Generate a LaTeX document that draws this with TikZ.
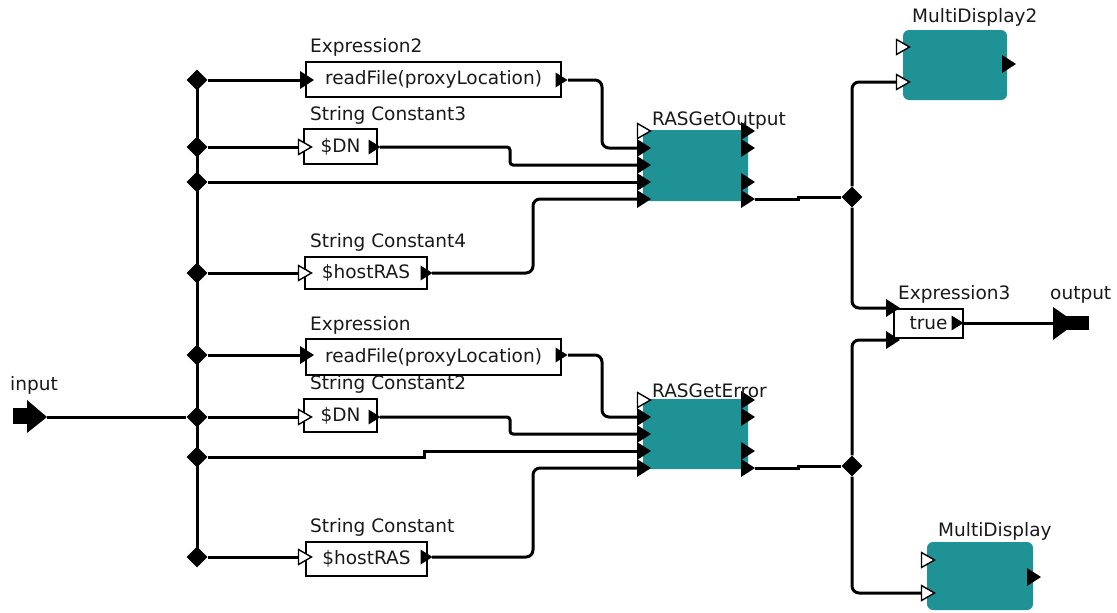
\documentclass[tikz,border=0pt]{standalone}
\usepackage{fontspec}
\setmainfont{DejaVu Sans}
\usetikzlibrary{shapes.geometric}
\definecolor{actorfill}{RGB}{31,146,150}
\definecolor{txt}{RGB}{25,25,25}
\begin{document}
\begin{tikzpicture}[x=1pt,y=-1pt,
  wire/.style={line width=3pt, rounded corners=7pt},
  sharpwire/.style={line width=3pt},
  bx/.style={draw=black, line width=1.2pt, fill=white, inner sep=0, font=\fontsize{18.5}{20}\selectfont, text=txt},
  lbl/.style={anchor=base west, font=\fontsize{18.5}{20}\selectfont, text=txt, inner sep=0},
  dot/.style={diamond, fill=black, minimum width=21pt, minimum height=21pt, inner sep=0},
  actor/.style={fill=actorfill, rounded corners=6pt, inner sep=0},
  fport/.pic={\fill[black] (-7,-9)--(7,0)--(-7,9)--cycle;},
  sport/.pic={\fill[black] (-5.5,-7.5)--(6.5,0)--(-5.5,7.5)--cycle;},
  hport/.pic={\filldraw[fill=white,draw=black,line width=1.4pt] (-6.5,-7.5)--(6.5,0)--(-6.5,7.5)--cycle;},
]
\useasboundingbox (0,0) rectangle (1117,613);

% ---------- named coordinates (ports) ----------
\coordinate (inp) at (47,417);
\coordinate (e2-i) at (300,80);   \coordinate (e2-o) at (568,80);
\coordinate (sc3-i) at (298,147); \coordinate (sc3-o) at (380,147);
\coordinate (sc4-i) at (298,273); \coordinate (sc4-o) at (432,273);
\coordinate (e-i) at (300,355);   \coordinate (e-o) at (568,355);
\coordinate (sc2-i) at (298,417); \coordinate (sc2-o) at (380,417);
\coordinate (sc-i) at (298,557);  \coordinate (sc-o) at (432,557);
\coordinate (go-i1) at (637,148); \coordinate (go-i2) at (637,165);
\coordinate (go-i3) at (637,182); \coordinate (go-i4) at (637,199);
\coordinate (go-o3) at (755,199);
\coordinate (ge-i1) at (637,417); \coordinate (ge-i2) at (637,434);
\coordinate (ge-i3) at (637,451); \coordinate (ge-i4) at (637,468);
\coordinate (ge-o3) at (755,468);
\coordinate (md2-i1) at (896,82);
\coordinate (x3-i0) at (886,308); \coordinate (x3-i1) at (886,340);
\coordinate (x3-o) at (963,323);
\coordinate (md-i1) at (921,593);
\coordinate (outp) at (1053,323);

% ---------- junction diamonds ----------
\node[dot] (d1) at (197,80) {};
\node[dot] (d2) at (197,147) {};
\node[dot] (d3) at (197,182) {};
\node[dot] (d4) at (197,273) {};
\node[dot] (d5) at (197,355) {};
\node[dot] (d6) at (197,417) {};
\node[dot] (d7) at (197,457) {};
\node[dot] (d8) at (197,557) {};
\node[dot] (dr1) at (852,197) {};
\node[dot] (dr2) at (852,466) {};

% ---------- wires ----------
\draw[sharpwire] (d1.center) -- (d8.center);
\draw[wire] (inp) -- (d6);
\draw[wire] (d1) -- (e2-i);
\draw[wire] (d2) -- (sc3-i);
\draw[wire] (d4) -- (sc4-i);
\draw[wire] (d5) -- (e-i);
\draw[wire] (d6) -- (sc2-i);
\draw[wire] (d8) -- (sc-i);

\draw[wire] (e2-o) -- (602,80) -- (602,148) -- (go-i1);
\draw[wire, rounded corners=3pt] (sc3-o) -- (510,147) -- (510,165) -- (go-i2);
\draw[sharpwire] (d3) -- (424,182) -- (go-i3);
\draw[wire] (sc4-o) -- (533,273) -- (533,199) -- (go-i4);
\draw[sharpwire] (go-o3) -- (798,199) -- (798,197) -- (dr1);

\draw[wire] (e-o) -- (602,355) -- (602,417) -- (ge-i1);
\draw[wire, rounded corners=3pt] (sc2-o) -- (510,417) -- (510,434) -- (ge-i2);
\draw[sharpwire] (d7) -- (424,457) -- (424,451) -- (ge-i3);
\draw[wire] (sc-o) -- (533,557) -- (533,468) -- (ge-i4);
\draw[sharpwire] (ge-o3) -- (798,468) -- (798,466) -- (dr2);

\draw[wire] (dr1) -- (852,82) -- (md2-i1);
\draw[wire] (dr1) -- (852,308) -- (x3-i0);
\draw[wire] (dr2) -- (852,340) -- (x3-i1);
\draw[wire] (dr2) -- (852,593) -- (md-i1);
\draw[wire] (x3-o) -- (outp);

% ---------- input / output terminals ----------
\fill[black] (13,408) rectangle (28,424);
\fill[black] (27,400) -- (inp) -- (27,433) -- cycle;
\fill[black] (outp) -- (1053,307) -- (1076,323) -- (1053,340) -- cycle;
\fill[black] (1062,316) rectangle (1089,330);

% ---------- boxes ----------
\node[bx, minimum width=255pt, minimum height=35pt] (e2) at (433.5,79.5) {readFile(proxyLocation)};
\node[bx, minimum width=73pt, minimum height=35pt] (sc3) at (340.5,146.5) {\$DN};
\node[bx, minimum width=122pt, minimum height=32pt] (sc4) at (366,273) {\$hostRAS};
\node[bx, minimum width=255pt, minimum height=36pt] (e) at (433.5,357) {readFile(proxyLocation)};
\node[bx, minimum width=73pt, minimum height=33pt] (sc2) at (340.5,415.5) {\$DN};
\node[bx, minimum width=121pt, minimum height=34pt] (sc) at (366.5,559) {\$hostRAS};
\node[bx, minimum width=69pt, minimum height=29pt] (x3) at (928.5,323.5) {true};

\node[actor, minimum width=105pt, minimum height=71pt] (rgo) at (695.5,165.5) {};
\node[actor, minimum width=105pt, minimum height=70pt] (rge) at (695.5,434) {};
\node[actor, minimum width=104pt, minimum height=70pt] (md2) at (955,65) {};
\node[actor, minimum width=106pt, minimum height=68pt] (md) at (980,576) {};

% ---------- ports ----------
\pic at (307,80) {fport};   \pic at (561,80) {sport};
\pic at (305,147) {hport};  \pic at (374,147) {sport};
\pic at (305,273) {hport};  \pic at (426,273) {sport};
\pic at (307,355) {fport};  \pic at (561,355) {sport};
\pic at (305,417) {hport};  \pic at (374,417) {sport};
\pic at (305,557) {hport};  \pic at (426,557) {sport};

\pic at (644,131) {hport};
\foreach \yy in {148,165,182,199} {\pic at (644,\yy) {fport};}
\foreach \yy in {131,148,182,199} {\pic at (748,\yy) {fport};}
\pic at (644,400) {hport};
\foreach \yy in {417,434,451,468} {\pic at (644,\yy) {fport};}
\foreach \yy in {400,417,451,468} {\pic at (748,\yy) {fport};}

\pic at (903,47) {hport};  \pic at (903,82) {hport};  \pic at (1009,64) {fport};
\pic at (928,560) {hport}; \pic at (928,593) {hport}; \pic at (1034,577) {fport};

\pic at (893,308) {fport}; \pic at (893,340) {fport}; \pic at (957,323) {sport};

% ---------- labels ----------
\node[lbl] (l-in) at (10,390) {input};
\node[lbl] (l-e2) at (310,52) {Expression2};
\node[lbl] (l-sc3) at (310,120) {String Constant3};
\node[lbl] (l-sc4) at (310,247) {String Constant4};
\node[lbl] (l-e) at (310,330) {Expression};
\node[lbl] (l-sc2) at (310,389) {String Constant2};
\node[lbl] (l-sc) at (310,532) {String Constant};
\node[lbl] (l-rgo) at (652,125) {RASGetOutput};
\node[lbl] (l-rge) at (652,397) {RASGetError};
\node[lbl] (l-md2) at (912,23) {MultiDisplay2};
\node[lbl] (l-x3) at (898,299) {Expression3};
\node[lbl] (l-out) at (1050,299) {output};
\node[lbl] (l-md) at (938,536) {MultiDisplay};
\end{tikzpicture}
\end{document}
